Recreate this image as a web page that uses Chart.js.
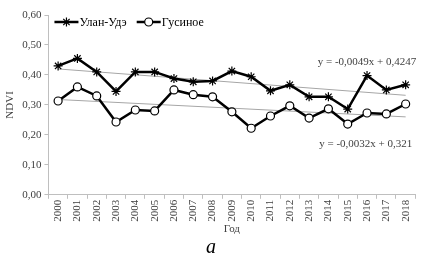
<!DOCTYPE html>
<html>
<head>
<meta charset="utf-8">
<script src="https://cdn.jsdelivr.net/npm/chart.js@4/dist/chart.umd.min.js"></script>
<style>
  html, body { margin: 0; padding: 0; background: #fff; }
  #wrap { width: 421px; height: 260px; }
</style>
</head>
<body>
<div id="wrap"><canvas id="ndviChart"></canvas></div>
<script>
// Data
const years = ['2000', '2001', '2002', '2003', '2004', '2005', '2006', '2007', '2008', '2009',
               '2010', '2011', '2012', '2013', '2014', '2015', '2016', '2017', '2018'];
const ulanUde = [0.430, 0.455, 0.410, 0.345, 0.410, 0.410, 0.388, 0.377, 0.380, 0.413,
                 0.394, 0.347, 0.367, 0.327, 0.327, 0.286, 0.398, 0.350, 0.367];
const gusinoe = [0.313, 0.360, 0.330, 0.243, 0.283, 0.280, 0.350, 0.334, 0.327, 0.277,
                 0.222, 0.263, 0.297, 0.256, 0.287, 0.236, 0.273, 0.270, 0.303];
// trend line end values (first year, last year)
const trendUlanUde = [0.420, 0.332];
const trendGusinoe = [0.318, 0.260];
const equations = ['y = -0,0049x + 0,4247', 'y = -0,0032x + 0,321'];
const yTicks = [0, 0.1, 0.2, 0.3, 0.4, 0.5, 0.6];

const serif = "'Liberation Serif', 'Times New Roman', serif";
const axisGray = '#bfbfbf';
const textColor = '#404040';

function trendData(ends) {
    return [{ x: years[0], y: ends[0] }, { x: years[years.length - 1], y: ends[1] }];
}

// draws the line + marker sample used in the legend
function drawSample(g, x, y, style) {
    g.save();
    g.strokeStyle = '#000';
    g.lineWidth = 2.5;
    g.beginPath(); g.moveTo(x, y); g.lineTo(x + 24, y); g.stroke();
    g.lineWidth = 1.2;
    const cx = x + 12;
    if (style === 'star') {
        g.beginPath();
        g.moveTo(cx - 4.5, y); g.lineTo(cx + 4.5, y);
        g.moveTo(cx, y - 4.5); g.lineTo(cx, y + 4.5);
        g.moveTo(cx - 3.2, y - 3.2); g.lineTo(cx + 3.2, y + 3.2);
        g.moveTo(cx + 3.2, y - 3.2); g.lineTo(cx - 3.2, y + 3.2);
        g.stroke();
    } else {
        g.fillStyle = '#fff';
        g.beginPath(); g.arc(cx, y, 4, 0, Math.PI * 2); g.fill(); g.stroke();
    }
    g.restore();
}

// legend inside the plot area, top left, in one row
const legendPlugin = {
    id: 'inlineLegend',
    afterDatasetsDraw(chart) {
        const { ctx, chartArea } = chart;
        ctx.save();
        ctx.font = '12px ' + serif;
        ctx.fillStyle = '#000';
        ctx.textAlign = 'left';
        ctx.textBaseline = 'middle';
        let x = chartArea.left + 6;
        const y = chartArea.top + 7;
        chart.data.datasets.slice(0, 2).forEach((ds, i) => {
            drawSample(ctx, x, y, i === 0 ? 'star' : 'circle');
            x += 25;
            ctx.fillText(ds.label, x, y + 0.5);
            x += ctx.measureText(ds.label).width + 10;
        });
        ctx.restore();
    }
};

// equation labels next to the trend lines
const equationPlugin = {
    id: 'equations',
    afterDatasetsDraw(chart) {
        const { ctx, chartArea, scales } = chart;
        ctx.save();
        ctx.font = '11px ' + serif;
        ctx.fillStyle = textColor;
        ctx.textAlign = 'right';
        ctx.textBaseline = 'middle';
        ctx.fillText(equations[0], chartArea.right + 1, scales.y.getPixelForValue(0.443));
        ctx.fillText(equations[1], chartArea.right - 3, scales.y.getPixelForValue(0.168));
        ctx.restore();
    }
};

const ctx = document.getElementById('ndviChart').getContext('2d');
const ndviChart = new Chart(ctx, {
    type: 'line',
    data: {
        labels: years,
        datasets: [
            {
                label: 'Улан-Удэ',
                data: ulanUde,
                borderColor: '#000',
                borderWidth: 2.5,
                pointStyle: 'star',
                pointRadius: 4.5,
                pointBorderWidth: 1.2,
                pointBorderColor: '#000',
                pointBackgroundColor: '#000',
                tension: 0
            },
            {
                label: 'Гусиное',
                data: gusinoe,
                borderColor: '#000',
                borderWidth: 2.5,
                pointStyle: 'circle',
                pointRadius: 4,
                pointBorderWidth: 1.2,
                pointBorderColor: '#000',
                pointBackgroundColor: '#fff',
                tension: 0
            },
            {
                label: 'trend1',
                data: trendData(trendUlanUde),
                borderColor: '#a6a6a6',
                borderWidth: 1,
                pointRadius: 0
            },
            {
                label: 'trend2',
                data: trendData(trendGusinoe),
                borderColor: '#a6a6a6',
                borderWidth: 1,
                pointRadius: 0
            }
        ]
    },
    options: {
        responsive: true,
        maintainAspectRatio: false,
        animation: false,
        layout: { padding: { top: 15, right: 3, left: 4, bottom: 0 } },
        plugins: {
            tooltip: { enabled: false },
            legend: { display: false },
            title: {
                display: true,
                position: 'bottom',
                text: 'а',
                color: '#000',
                font: { family: serif, size: 20, style: 'italic', weight: 'normal' },
                padding: { top: 0, bottom: 0 }
            }
        },
        scales: {
            x: {
                offset: true,
                grid: { offset: true, drawOnChartArea: false, color: axisGray, tickLength: 4 },
                border: { color: axisGray },
                ticks: {
                    font: { family: serif, size: 11 },
                    color: textColor,
                    maxRotation: 90,
                    minRotation: 90,
                    autoSkip: false,
                    padding: 1
                },
                title: {
                    display: true,
                    text: 'Год',
                    font: { family: serif, size: 11 },
                    color: textColor,
                    padding: { top: 0, bottom: 0 }
                }
            },
            y: {
                min: 0,
                max: 0.6,
                afterBuildTicks: axis => { axis.ticks = yTicks.map(v => ({ value: v })); },
                grid: { drawOnChartArea: false, color: axisGray, tickLength: 4 },
                border: { color: axisGray },
                ticks: {
                    font: { family: serif, size: 11 },
                    color: textColor,
                    padding: 3,
                    callback: v => v.toFixed(2).replace('.', ',')
                },
                title: {
                    display: true,
                    text: 'NDVI',
                    font: { family: serif, size: 11 },
                    color: textColor,
                    padding: { top: 0, bottom: 2 }
                }
            }
        }
    },
    plugins: [legendPlugin, equationPlugin]
});
</script>
</body>
</html>
